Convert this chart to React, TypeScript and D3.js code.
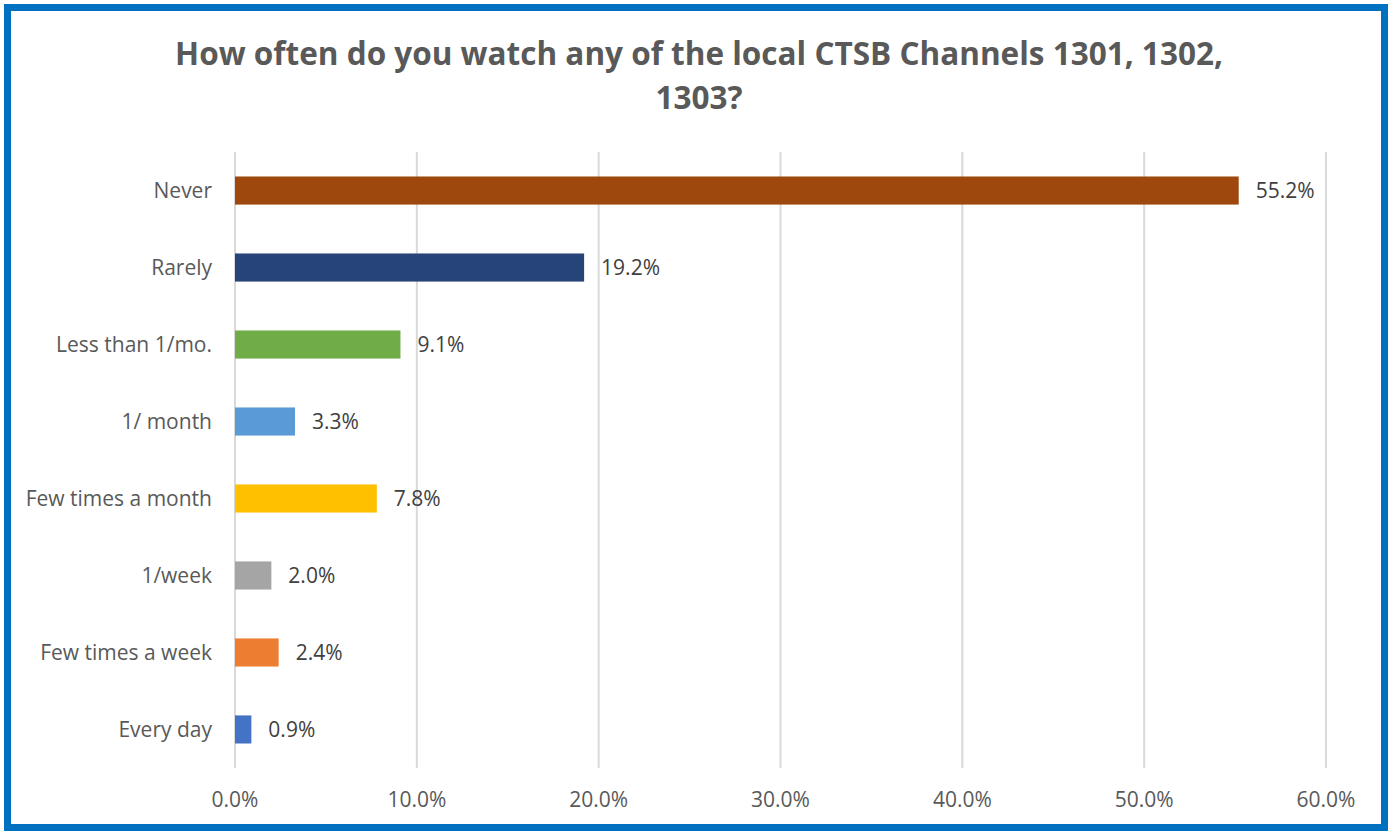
import React from "react";
import * as d3 from "d3";

const categories = ["Never", "Rarely", "Less than 1/mo.", "1/ month", "Few times a month", "1/week", "Few times a week", "Every day"];
const values = [55.2, 19.2, 9.1, 3.3, 7.8, 2.0, 2.4, 0.9];
const colors = ["#9E480E", "#264478", "#70AD47", "#5B9BD5", "#FFC000", "#A5A5A5", "#ED7D31", "#4472C4"];
const ticks = [0, 10, 20, 30, 40, 50, 60];
const titleLines = ["How often do you watch any of the local CTSB Channels 1301, 1302,", "1303?"];

const W = 1388, H = 831;
const left = 235, right = 1326, top = 152, bottom = 768;
const font = "'Open Sans', sans-serif";

export default function App() {
  const x = d3.scaleLinear().domain([0, 60]).range([left, right]);
  const y = d3.scaleBand().domain(categories).range([top, bottom]).paddingInner(0.635).paddingOuter(0.318);
  return (
    <svg width={W} height={H} style={{ position: "absolute", left: 0, top: 0, background: "#fff" }}>
      <rect x={7.5} y={7.5} width={W - 11} height={H - 11} fill="#fff" stroke="#0070C0" strokeWidth={7} />
      {titleLines.map((t, i) => (
        <text key={i} x={699} y={65 + i * 44} textAnchor="middle" fontFamily={font} fontWeight="bold" fontSize={31.5} fill="#595959">{t}</text>
      ))}
      {ticks.map((t) => (
        <g key={t}>
          <line x1={x(t)} x2={x(t)} y1={top} y2={bottom} stroke="#D9D9D9" strokeWidth={2} />
          <text x={x(t)} y={807} textAnchor="middle" fontFamily={font} fontSize={21} fill="#595959">{t.toFixed(1) + "%"}</text>
        </g>
      ))}
      {categories.map((c, i) => {
        const yy = y(c)!;
        const bh = y.bandwidth();
        return (
          <g key={c}>
            <rect x={x(0)} y={yy} width={x(values[i]) - x(0)} height={bh} fill={colors[i]} />
            <text x={212} y={yy + bh / 2 + 7.5} textAnchor="end" fontFamily={font} fontSize={21} fill="#595959">{c}</text>
            <text x={x(values[i]) + 17} y={yy + bh / 2 + 7.5} fontFamily={font} fontSize={21} fill="#404040">{values[i].toFixed(1) + "%"}</text>
          </g>
        );
      })}
    </svg>
  );
}
